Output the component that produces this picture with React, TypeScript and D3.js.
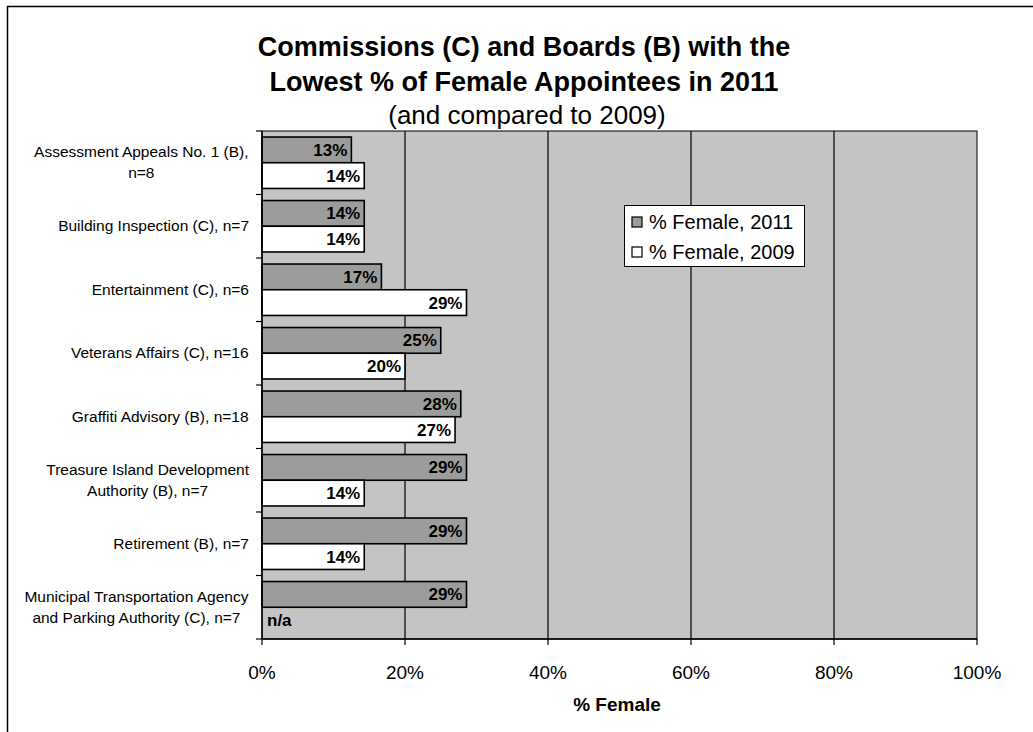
import React from "react";
import * as d3 from "d3";

const categories: string[][] = [
  ["Assessment Appeals No. 1 (B),", "n=8"],
  ["Building Inspection (C), n=7"],
  ["Entertainment (C), n=6"],
  ["Veterans Affairs (C), n=16"],
  ["Graffiti Advisory (B), n=18"],
  ["Treasure Island Development", "Authority (B), n=7"],
  ["Retirement (B), n=7"],
  ["Municipal Transportation Agency", "and Parking Authority (C), n=7"],
];
const values2011 = [0.125, 0.143, 0.167, 0.25, 0.278, 0.286, 0.286, 0.286];
const labels2011 = ["13%", "14%", "17%", "25%", "28%", "29%", "29%", "29%"];
const values2009: (number | null)[] = [0.143, 0.143, 0.286, 0.2, 0.27, 0.143, 0.143, null];
const labels2009 = ["14%", "14%", "29%", "20%", "27%", "14%", "14%", "n/a"];
const xTicks = [0, 0.2, 0.4, 0.6, 0.8, 1.0];
const xTickLabels = ["0%", "20%", "40%", "60%", "80%", "100%"];
const seriesNames = ["% Female, 2011", "% Female, 2009"];
const titleLines = [
  "Commissions (C) and Boards (B) with the",
  "Lowest % of Female Appointees in 2011",
  "(and compared to 2009)",
];
const xAxisTitle = "% Female";

const FONT = "'Liberation Sans', Arial, Helvetica, sans-serif";
const W = 1033;
const H = 732;
const plot = { left: 262, right: 977, top: 131, bottom: 639 };
const PLOT_BG = "#c4c4c4";
const BAR2011 = "#9c9c9c";

let ctx: CanvasRenderingContext2D | null = null;
function measure(text: string, font: string): number {
  if (!ctx) {
    const c = document.createElement("canvas");
    ctx = c.getContext("2d");
  }
  if (!ctx) return text.length * 7;
  ctx.font = font;
  return ctx.measureText(text).width;
}

export default function App() {
  const x = d3.scaleLinear().domain([0, 1]).range([plot.left, plot.right]);
  const idx = categories.map((_, i) => String(i));
  const y = d3.scaleBand().domain(idx).range([plot.top, plot.bottom]).padding(0);
  const bw = y.bandwidth();
  const barH = bw * 0.405;
  const off = (bw - 2 * barH) / 2;
  const labelFontSize = 15.5;
  const labelFont = `${labelFontSize}px ${FONT}`;
  const labelRight = 249;

  return (
    <svg
      width={W}
      height={H}
      style={{ position: "absolute", left: 0, top: 0, background: "#fff" }}
      fontFamily={FONT}
    >
      {/* outer border */}
      <line x1={7} y1={6.5} x2={W} y2={6.5} stroke="#000" strokeWidth={1.5} />
      <line x1={7.5} y1={6} x2={7.5} y2={H} stroke="#000" strokeWidth={1.5} />

      {/* title */}
      <text x={524} y={56} textAnchor="middle" fontSize={27} fontWeight="bold">{titleLines[0]}</text>
      <text x={524} y={91} textAnchor="middle" fontSize={27} fontWeight="bold">{titleLines[1]}</text>
      <text x={527} y={124} textAnchor="middle" fontSize={26}>{titleLines[2]}</text>

      {/* plot area */}
      <rect
        x={plot.left}
        y={plot.top}
        width={plot.right - plot.left}
        height={plot.bottom - plot.top}
        fill={PLOT_BG}
        stroke="#000"
        strokeWidth={1}
      />
      {/* gridlines */}
      {xTicks.slice(1, -1).map((t) => (
        <line key={"g" + t} x1={x(t)} x2={x(t)} y1={plot.top} y2={plot.bottom} stroke="#000" strokeWidth={1.2} />
      ))}

      {/* bars */}
      {categories.map((_, i) => {
        const y0 = (y(String(i)) as number) + off;
        const v1 = values2011[i];
        const v2 = values2009[i];
        return (
          <g key={"b" + i}>
            <rect x={x(0)} y={y0} width={x(v1) - x(0)} height={barH} fill={BAR2011} stroke="#000" strokeWidth={1.6} />
            <text x={x(v1) - 4} y={y0 + barH / 2 + 6} textAnchor="end" fontSize={17} fontWeight="bold">{labels2011[i]}</text>
            {v2 !== null ? (
              <>
                <rect x={x(0)} y={y0 + barH} width={x(v2) - x(0)} height={barH} fill="#fff" stroke="#000" strokeWidth={1.6} />
                <text x={x(v2) - 4} y={y0 + barH * 1.5 + 6} textAnchor="end" fontSize={17} fontWeight="bold">{labels2009[i]}</text>
              </>
            ) : (
              <text x={x(0) + 5} y={y0 + barH * 1.5 + 6} textAnchor="start" fontSize={17} fontWeight="bold">{labels2009[i]}</text>
            )}
          </g>
        );
      })}

      {/* y axis line & ticks */}
      <line x1={plot.left} x2={plot.left} y1={plot.top} y2={plot.bottom} stroke="#000" strokeWidth={1.5} />
      {d3.range(categories.length + 1).map((k) => {
        const yy = plot.top + k * bw;
        return <line key={"yt" + k} x1={plot.left - 6} x2={plot.left} y1={yy} y2={yy} stroke="#000" strokeWidth={1.2} />;
      })}
      {/* category labels */}
      {categories.map((lines, i) => {
        const cy = (y(String(i)) as number) + bw / 2;
        const blockW = Math.max(...lines.map((l) => measure(l, labelFont)));
        const cx = labelRight - blockW / 2;
        const lh = 21;
        const startY = cy - ((lines.length - 1) * lh) / 2 + 5;
        return (
          <g key={"l" + i}>
            {lines.map((l, j) => (
              <text key={j} x={cx} y={startY + j * lh} textAnchor="middle" fontSize={labelFontSize}>{l}</text>
            ))}
          </g>
        );
      })}

      {/* x axis */}
      <line x1={plot.left} x2={plot.right} y1={plot.bottom} y2={plot.bottom} stroke="#000" strokeWidth={1.5} />
      {xTicks.map((t, k) => (
        <g key={"xt" + k}>
          <line x1={x(t)} x2={x(t)} y1={plot.bottom} y2={plot.bottom + 6} stroke="#000" strokeWidth={1.2} />
          <text x={x(t)} y={679} textAnchor="middle" fontSize={19}>{xTickLabels[k]}</text>
        </g>
      ))}
      <text x={617} y={711} textAnchor="middle" fontSize={19} fontWeight="bold">{xAxisTitle}</text>

      {/* legend */}
      <rect x={624.5} y={205.5} width={180} height={61} fill="#fff" stroke="#000" strokeWidth={1} />
      <rect x={632} y={217} width={10} height={10} fill={BAR2011} stroke="#000" strokeWidth={1.2} />
      <text x={649} y={229} fontSize={20}>{seriesNames[0]}</text>
      <rect x={632} y={247} width={10} height={10} fill="#fff" stroke="#000" strokeWidth={1.2} />
      <text x={649} y={259} fontSize={20}>{seriesNames[1]}</text>
    </svg>
  );
}
